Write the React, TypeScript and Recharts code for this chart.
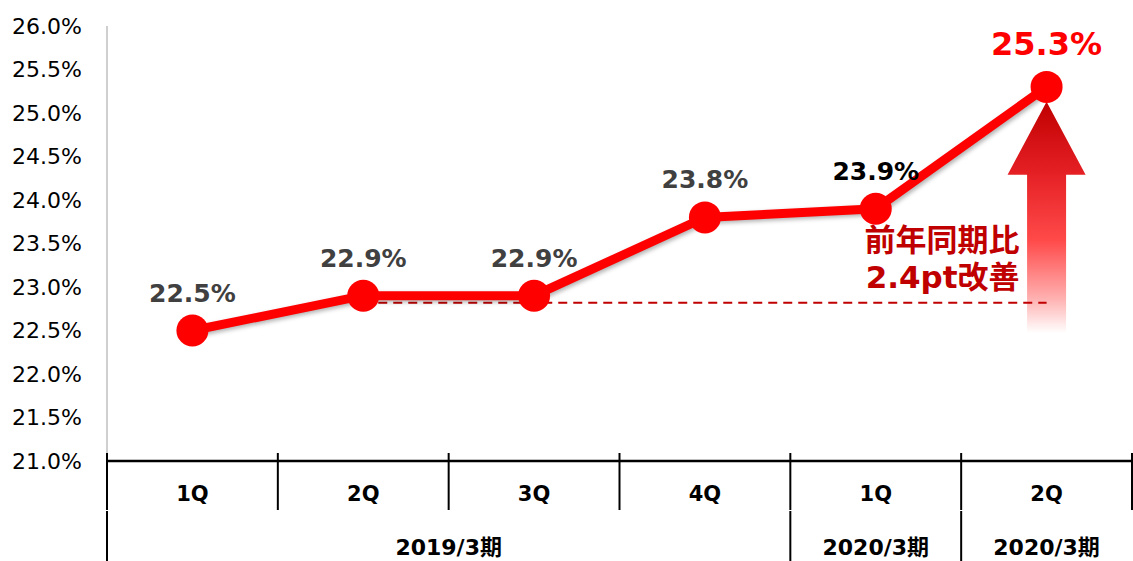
import React from 'react';
import {
  LineChart,
  Line,
  XAxis,
  YAxis,
  LabelList,
  ReferenceLine,
  ReferenceArea,
} from 'recharts';

// quarters on the x axis (keys are unique, labels repeat)
const quarterKeys = ['2019-1Q', '2019-2Q', '2019-3Q', '2019-4Q', '2020-1Q', '2020-2Q'];
const quarterLabels = ['1Q', '2Q', '3Q', '4Q', '1Q', '2Q'];
const rates = [22.5, 22.9, 22.9, 23.8, 23.9, 25.3];

// second row of the axis: fiscal period groups
const periodLabels = ['2019/3期', '2020/3期', '2020/3期'];
const periodSpans = [4, 1, 1];

const yTicks = [21, 21.5, 22, 22.5, 23, 23.5, 24, 24.5, 25, 25.5, 26];

// dashed baseline + arrow annotation
const baselineValue = 22.82;
const baselineFrom = '2019-2Q';
const baselineTo = '2020-2Q';
const arrowBottom = 22.47;
const arrowTop = 25.13;
const noteLines = ['前年同期比', '2.4pt改善'];

const data = quarterKeys.map((key, i) => ({
  key,
  quarter: quarterLabels[i],
  rate: rates[i],
}));

const WIDTH = 1133;
const HEIGHT = 561;
const MARGIN = { top: 26, right: 1, left: 0, bottom: 0 };
const Y_AXIS_W = 107;
const PLOT_W = WIDTH - MARGIN.left - MARGIN.right - Y_AXIS_W;
const BAND = PLOT_W / quarterKeys.length;
const FONT = '"DejaVu Sans", Verdana, "Noto Sans CJK JP", sans-serif';

const QuarterTick = ({ x, y, index }: any) => {
  const left = x - BAND / 2;
  return (
    <g>
      <line x1={left} y1={y - 8} x2={left} y2={y + 49} stroke="#000" strokeWidth={2} />
      {index === quarterKeys.length - 1 && (
        <line x1={x + BAND / 2} y1={y - 8} x2={x + BAND / 2} y2={y + 49} stroke="#000" strokeWidth={2} />
      )}
      <text x={x} y={y + 40} textAnchor="middle" fontFamily={FONT} fontWeight="bold" fontSize={21} fill="#000">
        {quarterLabels[index]}
      </text>
    </g>
  );
};

const groupStarts = periodSpans.map((_, g) => periodSpans.slice(0, g).reduce((a, b) => a + b, 0));

const PeriodTick = ({ x, y, index }: any) => {
  const g = groupStarts.indexOf(index);
  if (g < 0) return null;
  const left = x - BAND / 2;
  const center = left + (periodSpans[g] * BAND) / 2;
  return (
    <g>
      <line x1={left} y1={y} x2={left} y2={y + 50} stroke="#000" strokeWidth={2} />
      <text x={center} y={y + 44} textAnchor="middle" fontFamily={FONT} fontWeight="bold" fontSize={22} fill="#000">
        {periodLabels[g]}
      </text>
    </g>
  );
};

const renderLabel = (props: any) => {
  const { x, y, value, index } = props;
  const last = index === rates.length - 1;
  const fill = last ? '#ff0000' : index === 4 ? '#000' : '#404040';
  return (
    <text
      x={x}
      y={y - (last ? 32 : 29)}
      textAnchor="middle"
      fontFamily={FONT}
      fontWeight="bold"
      fontSize={last ? 32 : 25}
      fill={fill}
    >
      {Number(value).toFixed(1)}%
    </text>
  );
};

const Arrow = (props: any) => {
  const { x, y, width, height } = props;
  const cx = x + width / 2;
  const headW = 39;
  const shaftW = 19.5;
  const headH = 73;
  const bottom = y + height;
  const d = `M${cx},${y} L${cx + headW},${y + headH} L${cx + shaftW},${y + headH} L${cx + shaftW},${bottom} L${cx - shaftW},${bottom} L${cx - shaftW},${y + headH} L${cx - headW},${y + headH} Z`;
  return (
    <g>
      <path d={d} fill="url(#arrowGradient)" />
      <text x={cx - 27} y={y + 149} textAnchor="end" fontFamily={FONT} fontWeight="bold" fontSize={31} fill="#c00000">
        {noteLines[0]}
      </text>
      <text x={cx - 27} y={y + 186} textAnchor="end" fontFamily={FONT} fontWeight="bold" fontSize={31} fill="#c00000">
        {noteLines[1]}
      </text>
    </g>
  );
};

const App: React.FC = () => {
  return (
    <div style={{ position: 'absolute', left: 0, top: 0, width: WIDTH, height: HEIGHT, background: '#fff' }}>
      <style>{`.trend .recharts-line-curve, .trend .recharts-line-dots { filter: drop-shadow(2px 2px 2px rgba(0,0,0,0.3)); }`}</style>
      <LineChart width={WIDTH} height={HEIGHT} data={data} margin={MARGIN}>
        <defs>
          <linearGradient id="arrowGradient" x1="0" y1="0" x2="0" y2="1">
            <stop offset="0%" stopColor="#c00000" />
            <stop offset="30%" stopColor="#e41f24" />
            <stop offset="60%" stopColor="#ff4a4a" />
            <stop offset="85%" stopColor="#ffb0b0" />
            <stop offset="100%" stopColor="#ffffff" />
          </linearGradient>
        </defs>
        <XAxis
          dataKey="key"
          scale="band"
          height={50}
          tickSize={0}
          tickMargin={0}
          axisLine={{ stroke: '#000', strokeWidth: 2.5 }}
          tick={<QuarterTick />}
          interval={0}
        />
        <XAxis
          xAxisId="period"
          dataKey="key"
          scale="band"
          height={50}
          tickSize={0}
          tickMargin={0}
          axisLine={false}
          tick={<PeriodTick />}
          interval={0}
        />
        <YAxis
          width={Y_AXIS_W}
          domain={[21, 26]}
          ticks={yTicks}
          tickSize={0}
          tickMargin={25}
          axisLine={{ stroke: '#bfbfbf', strokeWidth: 1.5 }}
          tickFormatter={(v: number) => `${v.toFixed(1)}%`}
          tick={{ fill: '#000', fontSize: 22, fontFamily: FONT }}
          allowDataOverflow
        />
        <ReferenceArea x1={baselineTo} x2={baselineTo} y1={arrowBottom} y2={arrowTop} shape={<Arrow />} />
        <ReferenceLine
          segment={[
            { x: baselineFrom, y: baselineValue },
            { x: baselineTo, y: baselineValue },
          ]}
          stroke="#c00000"
          strokeWidth={2}
          strokeDasharray="9 6"
        />
        <Line
          className="trend"
          type="linear"
          dataKey="rate"
          stroke="#ff0000"
          strokeWidth={9}
          dot={{ r: 16, fill: '#ff0000', stroke: 'none' }}
          activeDot={false}
          isAnimationActive={false}
        >
          <LabelList dataKey="rate" content={renderLabel} />
        </Line>
      </LineChart>
    </div>
  );
};

export default App;
